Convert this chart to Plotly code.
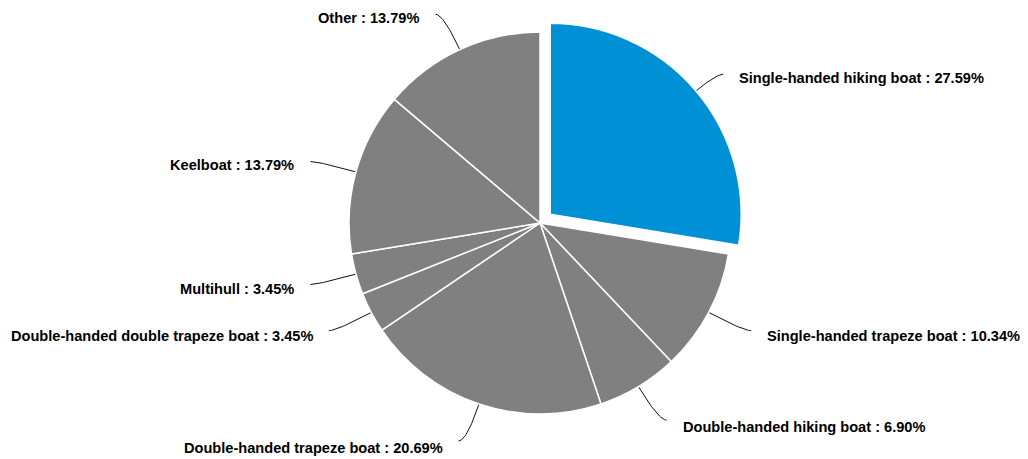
import numpy as np
import plotly.graph_objects as go

labels = ["Single-handed hiking boat", "Single-handed trapeze boat",
          "Double-handed hiking boat", "Double-handed trapeze boat",
          "Double-handed double trapeze boat", "Multihull", "Keelboat", "Other"]
counts = [8, 3, 2, 6, 1, 1, 4, 4]
percents = [27.59, 10.34, 6.90, 20.69, 3.45, 3.45, 13.79, 13.79]
colors = ["#0090d5"] + ["#808080"] * 7
pulls = [0.07] + [0] * 7

W, H = 1028, 459
# pie placement (pixels)
cx, cy, r = 540, 223, 191
box = r * (1 + max(pulls))
dom_x = [(cx - box) / W, (cx + box) / W]
dom_y = [1 - (cy + box) / H, 1 - (cy - box) / H]

fig = go.Figure()
fig.add_trace(go.Pie(
    labels=labels, values=counts, sort=False, direction="clockwise",
    rotation=0, pull=pulls, textinfo="none", hoverinfo="none",
    marker=dict(colors=colors, line=dict(color="white", width=1.5)),
    domain=dict(x=dom_x, y=dom_y), showlegend=False))

# connectors + labels
total = sum(counts)
start = 0.0
for lab, c, p in zip(labels, counts, percents):
    mid = (start + c / 2) / total * 2 * np.pi
    start += c
    dx, dy = np.sin(mid), -np.cos(mid)
    side = 1 if dx > 0 else -1
    p0 = np.array([cx + r * dx, cy + r * dy])
    ctrl = np.array([cx + 230 * dx, cy + 230 * dy])
    end = ctrl + np.array([side * 8, 0])
    t = np.linspace(0, 1, 30)[:, None]
    pts = (1 - t) ** 2 * p0 + 2 * (1 - t) * t * ctrl + t ** 2 * end
    fig.add_trace(go.Scatter(x=pts[:, 0], y=pts[:, 1], mode="lines",
                             line=dict(color="#111111", width=1),
                             hoverinfo="skip", showlegend=False))
    fig.add_annotation(x=end[0] + side * 14, y=end[1] + 4 + max(dy, 0) * 3,
                       xref="x", yref="y",
                       text=f"<b>{lab} : {p:.2f}%</b>", showarrow=False,
                       xanchor="left" if side > 0 else "right", yanchor="middle",
                       font=dict(family="Liberation Sans, Arial", size=14.6, color="#000000"))

fig.update_layout(
    width=W, height=H, margin=dict(l=0, r=0, t=0, b=0),
    paper_bgcolor="white", plot_bgcolor="rgba(0,0,0,0)",
    xaxis=dict(range=[0, W], visible=False, fixedrange=True),
    yaxis=dict(range=[H, 0], visible=False, fixedrange=True),
)
# drop the browser's default page margin so the chart sits at the top-left
fig.write_html("out.html", config={"displayModeBar": False},
               post_script="document.body.style.margin='0';")
